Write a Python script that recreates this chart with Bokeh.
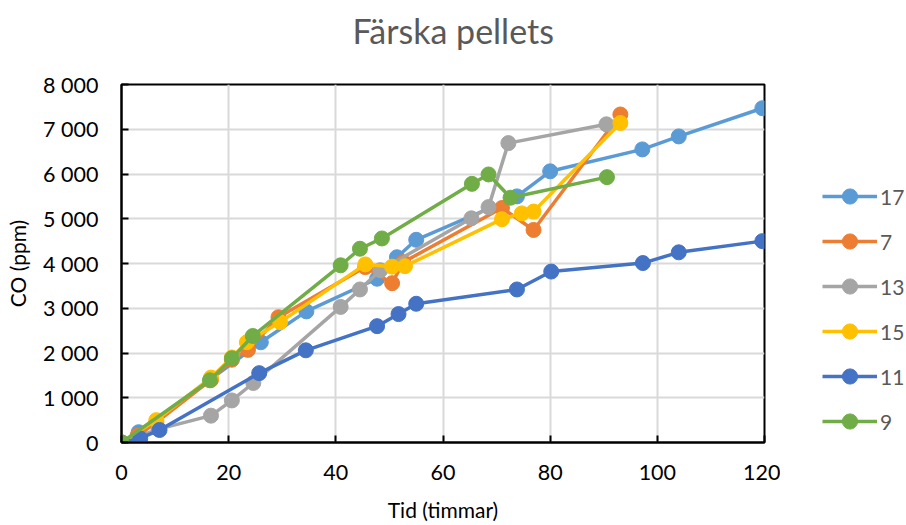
from bokeh.plotting import figure
from bokeh.models import (Range1d, FixedTicker, Legend, LegendItem, Title)
from bokeh.layouts import row
from bokeh.embed import file_html
from bokeh.resources import INLINE

# Measured CO concentration (ppm) against time (hours) for each sample
t_17 = [0, 3.2, 26.0, 34.5, 47.7, 51.4, 55.0, 73.8, 80.0, 97.2, 104.0, 119.6]
co_17 = [0, 230, 2240, 2930, 3660, 4140, 4530, 5500, 6060, 6550, 6840, 7470]

t_7 = [0, 3.0, 6.5, 16.7, 20.6, 23.6, 29.3, 45.5, 50.5, 52.6, 71.0, 76.9, 93.1]
co_7 = [0, 150, 450, 1400, 1850, 2070, 2800, 3920, 3560, 4030, 5240, 4750, 7330]

t_13 = [0, 6.9, 16.7, 20.6, 24.6, 40.9, 44.5, 48.3, 65.3, 68.5, 72.2, 90.5]
co_13 = [0, 300, 600, 940, 1330, 3030, 3420, 3850, 5010, 5260, 6690, 7110]

t_15 = [0, 6.5, 16.7, 20.6, 23.4, 29.6, 45.5, 50.5, 52.9, 71.0, 74.7, 76.9, 93.1]
co_15 = [0, 500, 1450, 1900, 2240, 2690, 3980, 3930, 3940, 4990, 5120, 5160, 7140]

t_11 = [0, 3.5, 7.1, 25.7, 34.4, 47.7, 51.7, 55.0, 73.8, 80.2, 97.3, 104.0, 119.6]
co_11 = [0, 90, 280, 1550, 2060, 2600, 2870, 3100, 3420, 3820, 4010, 4250, 4500]

t_9 = [0, 16.5, 20.6, 24.5, 40.9, 44.5, 48.6, 65.4, 68.5, 72.6, 90.6]
co_9 = [0, 1390, 1880, 2380, 3960, 4330, 4560, 5780, 5990, 5470, 5930]

series_names = ["17", "7", "13", "15", "11", "9"]
series_t = [t_17, t_7, t_13, t_15, t_11, t_9]
series_co = [co_17, co_7, co_13, co_15, co_11, co_9]
series_colors = ["#5B9BD5", "#ED7D31", "#A5A5A5", "#FFC000", "#4472C4", "#70AD47"]

x_ticks = [0, 20, 40, 60, 80, 100, 120]
y_ticks = [0, 1000, 2000, 3000, 4000, 5000, 6000, 7000, 8000]
y_tick_labels = ["0", "1 000", "2 000", "3 000", "4 000", "5 000", "6 000", "7 000", "8 000"]

FONT = "Lato"
LINE_W = 3.5
MARKER = 15
BORDER_TOP = 84
BORDER_BOTTOM = 83

p = figure(width=780, height=525, output_backend="svg", toolbar_location=None,
           x_range=Range1d(0, 120), y_range=Range1d(0, 8000),
           min_border_left=121, min_border_right=16,
           min_border_top=BORDER_TOP, min_border_bottom=BORDER_BOTTOM)

p.background_fill_color = "white"
p.border_fill_color = "white"
p.outline_line_color = "black"
p.outline_line_width = 2

# empty spacer between the plot frame and the title, then the title itself
p.add_layout(Title(text=" ", text_font_size="2px", standoff=30), "above")
p.add_layout(Title(text="Färska pellets", text_font=FONT, text_font_size="34px",
                   text_font_style="normal", text_color="#595959",
                   align="left", offset=231, standoff=0), "above")

# grid
for g in (p.xgrid, p.ygrid):
    g.grid_line_color = "#D9D9D9"
    g.grid_line_width = 2
p.xgrid.ticker = FixedTicker(ticks=x_ticks)
p.ygrid.ticker = FixedTicker(ticks=y_ticks)

# axes
xa = p.xaxis[0]
ya = p.yaxis[0]
xa.ticker = FixedTicker(ticks=x_ticks)
ya.ticker = FixedTicker(ticks=y_ticks)
ya.major_label_overrides = {v: s for v, s in zip(y_ticks, y_tick_labels)}
for ax in (xa, ya):
    ax.axis_line_color = "black"
    ax.axis_line_width = 2
    ax.major_tick_line_color = "black"
    ax.major_tick_line_width = 2
    ax.major_tick_in = 7
    ax.major_tick_out = 0
    ax.minor_tick_line_color = None
    ax.major_label_text_font = FONT
    ax.major_label_text_font_size = "21.5px"
    ax.major_label_text_color = "black"
    ax.axis_label_text_font = FONT
    ax.axis_label_text_font_size = "21px"
    ax.axis_label_text_font_style = "normal"
    ax.axis_label_text_color = "black"
xa.axis_label = "Tid (timmar)"
ya.axis_label = "CO (ppm)"
xa.major_label_standoff = 22
ya.major_label_standoff = 23
xa.axis_label_standoff = 14
ya.axis_label_standoff = 10

for tx, cy, col in zip(series_t, series_co, series_colors):
    p.line(tx, cy, line_color=col, line_width=LINE_W)
    p.scatter(tx, cy, size=MARKER, fill_color=col, line_color=col)

# legend panel to the right of the chart (same top/bottom borders as the chart)
lg = figure(width=126, height=525, output_backend="svg", toolbar_location=None,
            x_range=Range1d(1000, 1001), y_range=Range1d(1000, 1001),
            x_axis_location=None, y_axis_location=None,
            min_border_left=0, min_border_right=0,
            min_border_top=BORDER_TOP, min_border_bottom=BORDER_BOTTOM)
lg.outline_line_color = None
lg.xgrid.visible = False
lg.ygrid.visible = False
lg.background_fill_color = "white"
lg.border_fill_color = "white"

items = []
for name, tx, cy, col in zip(series_names, series_t, series_co, series_colors):
    ln = lg.line(tx, cy, line_color=col, line_width=LINE_W)
    sc = lg.scatter(tx, cy, size=MARKER, fill_color=col, line_color=col)
    items.append(LegendItem(label=name, renderers=[ln, sc]))

legend = Legend(items=items, location=(42, 2))
legend.background_fill_alpha = 0
legend.border_line_color = None
legend.padding = 0
legend.margin = 0
legend.spacing = 7
legend.glyph_width = 55
legend.glyph_height = 38
legend.label_height = 38
legend.label_standoff = 3
legend.label_text_font = FONT
legend.label_text_font_size = "21px"
legend.label_text_color = "#595959"
lg.add_layout(legend, "center")

layout = row(p, lg, spacing=0)
open("out.html", "w").write(file_html(layout, INLINE))
